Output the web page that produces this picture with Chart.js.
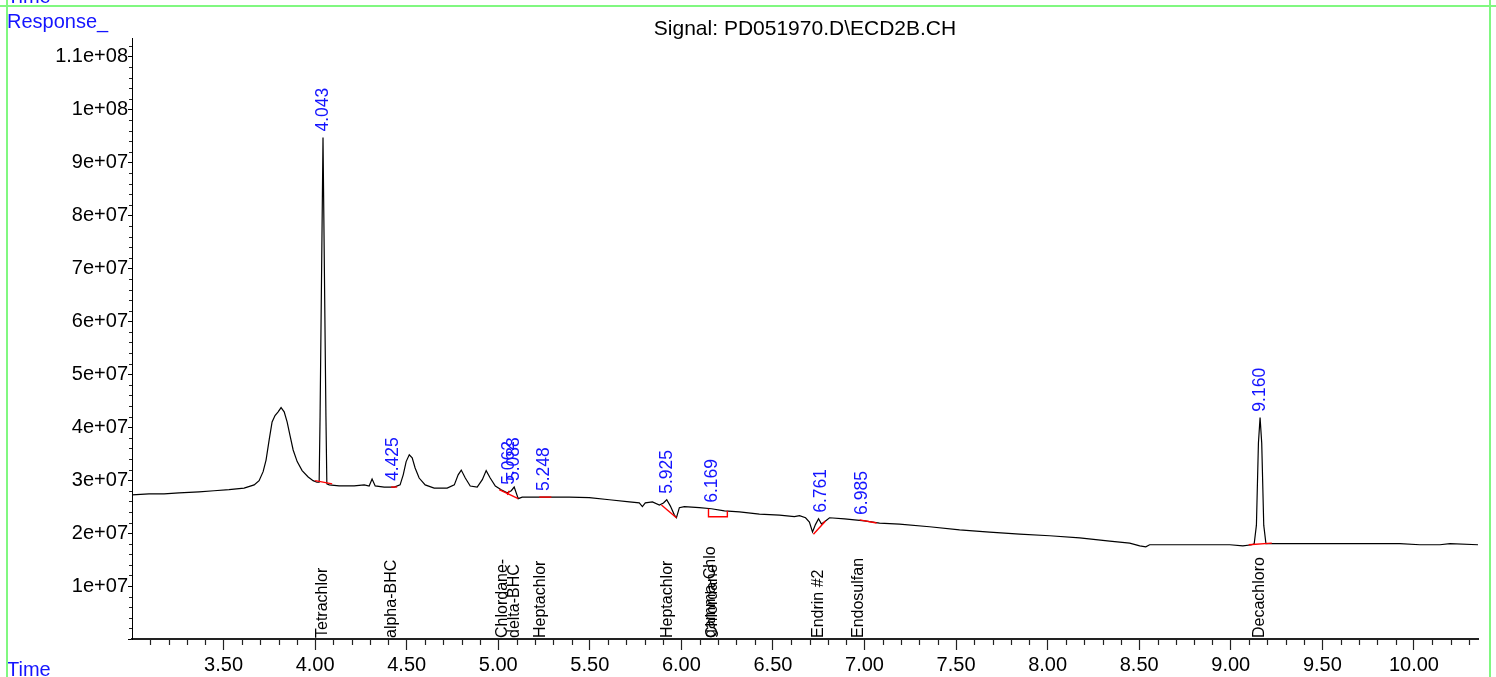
<!DOCTYPE html>
<html><head><meta charset="utf-8">
<script src="https://cdn.jsdelivr.net/npm/chart.js@4.4.1/dist/chart.umd.min.js"></script>
<style>html,body{margin:0;padding:0;background:#fff;overflow:hidden}#wrap{width:1496px;height:677px;position:relative}</style>
</head><body><div id="wrap"><canvas id="c"></canvas></div>
<script>
// ---- signal trace (retention time in min, response) ----
const times = [3.000,3.093,3.175,3.257,3.366,3.448,3.530,3.612,3.667,3.694,3.716,3.732,3.749,3.765,3.781,3.798,3.814,3.831,3.847,3.863,3.880,3.902,3.929,3.962,3.989,4.010,
4.022,4.027,4.043,4.059,4.064,4.077,4.131,4.213,4.268,4.295,4.311,4.328,4.377,4.432,4.464,4.481,4.497,4.514,4.530,4.546,4.568,4.601,4.650,4.721,4.760,4.781,4.798,4.820,4.847,4.885,4.913,4.934,4.956,4.984,
5.016,5.049,5.071,5.087,5.109,5.131,5.197,5.279,5.388,5.497,5.607,5.716,5.770,5.787,5.803,5.842,5.880,5.902,5.920,5.940,5.962,5.973,5.989,6.016,6.098,6.164,6.235,6.317,6.426,6.536,6.617,6.645,6.678,6.699,6.716,6.732,6.749,6.765,6.787,6.809,6.891,
7.000,7.082,7.191,7.355,7.519,7.683,7.847,8.011,8.175,8.339,8.448,8.503,8.536,8.557,8.667,8.831,8.995,9.066,9.115,9.128,9.140,9.151,9.160,9.169,9.180,9.192,9.268,9.486,9.705,9.923,10.033,10.142,10.197,10.350];
const responses = [2.72e7,2.74e7,2.74e7,2.76e7,2.78e7,2.80e7,2.82e7,2.85e7,2.91e7,2.99e7,3.16e7,3.38e7,3.76e7,4.10e7,4.22e7,4.29e7,4.37e7,4.29e7,4.10e7,3.84e7,3.57e7,3.35e7,3.18e7,3.06e7,2.99e7,2.96e7,
2.96e7,4.2e7,9.47e7,4.2e7,2.93e7,2.91e7,2.89e7,2.89e7,2.91e7,2.89e7,3.02e7,2.89e7,2.87e7,2.87e7,2.91e7,3.10e7,3.35e7,3.48e7,3.42e7,3.23e7,3.04e7,2.91e7,2.85e7,2.85e7,2.91e7,3.10e7,3.19e7,3.04e7,2.89e7,2.87e7,3.01e7,3.18e7,3.04e7,2.89e7,
2.82e7,2.76e7,2.80e7,2.87e7,2.65e7,2.68e7,2.68e7,2.68e7,2.68e7,2.67e7,2.63e7,2.59e7,2.57e7,2.50e7,2.57e7,2.59e7,2.53e7,2.57e7,2.63e7,2.51e7,2.34e7,2.29e7,2.48e7,2.50e7,2.48e7,2.46e7,2.42e7,2.40e7,2.36e7,2.34e7,2.31e7,2.33e7,2.29e7,2.21e7,2.02e7,2.16e7,2.27e7,2.17e7,2.23e7,2.29e7,2.27e7,
2.23e7,2.19e7,2.17e7,2.12e7,2.06e7,2.02e7,1.98e7,1.95e7,1.91e7,1.85e7,1.81e7,1.76e7,1.74e7,1.78e7,1.78e7,1.78e7,1.78e7,1.76e7,1.78e7,1.80e7,2.15e7,3.70e7,4.18e7,3.70e7,2.15e7,1.80e7,1.80e7,1.80e7,1.80e7,1.80e7,1.78e7,1.78e7,1.80e7,1.78e7];

// ---- integration baselines (red) ----
const baselineTimes = [[4.000,4.093],[4.415,4.448],[5.005,5.109],[5.050,5.060],[5.224,5.290],[5.891,5.973],[6.148,6.148,6.251,6.251],[6.721,6.787],[6.973,7.066],[9.098,9.224]];
const baselineValues = [[2.99e7,2.93e7],[2.87e7,2.87e7],[2.82e7,2.65e7],[2.72e7,2.80e7],[2.68e7,2.68e7],[2.53e7,2.29e7],[2.46e7,2.31e7,2.31e7,2.42e7],[1.98e7,2.23e7],[2.25e7,2.19e7],[1.78e7,1.81e7]];

// ---- peak retention-time annotations ----
const rtLabels  = ['4.043','4.425','5.062','5.088','5.248','5.925','6.169','6.761','6.985','9.160'];
const rtTimes   = [4.043,4.425,5.062,5.088,5.248,5.925,6.169,6.761,6.985,9.160];
const rtHeights = [9.47e7,2.87e7,2.80e7,2.87e7,2.68e7,2.63e7,2.46e7,2.27e7,2.23e7,4.18e7];

// ---- compound names ----
const compoundNames = ['Tetrachlor','alpha-BHC','Chlordane-','delta-BHC','Heptachlor','Heptachlor','gamma-Chlo','Chlordane','Endrin #2','Endosulfan','Decachloro'];
const compoundTimes = [4.043,4.420,5.022,5.088,5.230,5.925,6.162,6.172,6.750,6.970,9.160];

// ---- axes ----
const xMin = 3.0, xMax = 10.35, xMajor = 0.5, xMinor = 0.1;
const yMin = 0, yMax = 1.135e8, yMajor = 1e7, yMinor = 2e6;

const FONT = '"Liberation Sans", Arial, sans-serif';

const datasets = [{
  data: times.map((t,i)=>({x:t,y:responses[i]})),
  borderColor:'#000', borderWidth:1.2, pointRadius:0, tension:0, fill:false, order:1
}];
baselineTimes.forEach((ts,k)=>{
  datasets.push({data: ts.map((t,i)=>({x:t,y:baselineValues[k][i]})), borderColor:'#ff0000', borderWidth:1.4, pointRadius:0, tension:0, fill:false, order:0});
});

function fmtExp(v){
  let s = Number(v).toExponential();
  return s.replace(/e([+-])(\d)$/, 'e$10$2');
}

const decor = {
  id:'decor',
  afterDraw(chart){
    const ctx = chart.ctx, xs = chart.scales.x, ys = chart.scales.y, a = chart.chartArea;
    ctx.save();
    // minor ticks
    ctx.strokeStyle = '#222'; ctx.lineWidth = 1.2;
    ctx.beginPath();
    const nx0 = Math.ceil(xs.min/xMinor - 1e-6), nx1 = Math.floor(xs.max/xMinor + 1e-6);
    for(let k=nx0;k<=nx1;k++){
      const v = k*xMinor;
      if (Math.abs(v/xMajor - Math.round(v/xMajor)) < 1e-6) continue;
      const px = Math.round(xs.getPixelForValue(v))+0.5;
      ctx.moveTo(px, a.bottom); ctx.lineTo(px, a.bottom+6);
    }
    const ny1 = Math.floor(ys.max/yMinor);
    for(let k=1;k<=ny1;k++){
      const v = k*yMinor;
      if (k % Math.round(yMajor/yMinor) === 0) continue;
      const py = Math.round(ys.getPixelForValue(v))+0.5;
      ctx.moveTo(a.left-3, py); ctx.lineTo(a.left, py);
    }
    ctx.stroke();

    // compound names
    ctx.fillStyle = '#000';
    ctx.font = '16px ' + FONT;
    ctx.textAlign = 'left'; ctx.textBaseline = 'middle';
    compoundNames.forEach((n,i)=>{
      const px = xs.getPixelForValue(compoundTimes[i]);
      ctx.save(); ctx.translate(px, a.bottom-1); ctx.rotate(-Math.PI/2); ctx.fillText(n, 0, 0); ctx.restore();
    });
    // RT labels
    ctx.fillStyle = '#1414ff';
    ctx.font = '17.5px ' + FONT;
    rtLabels.forEach((n,i)=>{
      const px = xs.getPixelForValue(rtTimes[i]);
      const py = ys.getPixelForValue(rtHeights[i]) - 6;
      ctx.save(); ctx.translate(px, py); ctx.rotate(-Math.PI/2); ctx.fillText(n, 0, 0); ctx.restore();
    });

    // header texts
    ctx.textBaseline = 'alphabetic'; ctx.textAlign = 'left';
    ctx.font = '20px ' + FONT;
    ctx.fillStyle = '#1414ff';
    ctx.fillText('Time', 7, 3);
    ctx.fillText('Response_', 7, 28);
    ctx.fillText('Time', 7, 676);
    ctx.fillStyle = '#000';
    ctx.textAlign = 'center';
    ctx.font = '21px ' + FONT;
    ctx.fillText('Signal: PD051970.D\\ECD2B.CH', 805, 35);

    // green frame
    ctx.strokeStyle = '#80f880'; ctx.lineWidth = 2;
    ctx.beginPath();
    ctx.moveTo(0, 6); ctx.lineTo(1496, 6);
    ctx.moveTo(7, 0); ctx.lineTo(7, 677);
    ctx.moveTo(1490, 0); ctx.lineTo(1490, 677);
    ctx.stroke();
    ctx.restore();
  }
};

new Chart(document.getElementById('c'), {
  type:'line',
  data:{datasets},
  options:{
    responsive:true, maintainAspectRatio:false, animation:false,
    layout:{padding:{left:0, top:38, right:18, bottom:0}},
    plugins:{legend:{display:false}, tooltip:{enabled:false}, title:{display:false}},
    scales:{
      x:{type:'linear', position:'bottom', min:xMin, max:xMax,
        border:{display:true, color:'#222', width:2},
        grid:{display:true, drawOnChartArea:false, drawTicks:true, tickLength:11, tickColor:(c)=> (c.tick && c.tick.value < 3.25) ? 'rgba(0,0,0,0)' : '#222', tickWidth:1.2},
        ticks:{stepSize:xMajor, includeBounds:false, autoSkip:false, maxTicksLimit:100, maxRotation:0, minRotation:0, padding:3, color:'#000', font:{family:FONT, size:20},
          callback:(v)=> v < 3.25 ? '' : Number(v).toFixed(2)},
        afterFit:(s)=>{ s.height = 38; }
      },
      y:{type:'linear', position:'left', min:yMin, max:yMax,
        afterBuildTicks:(s)=>{
          const t = [];
          for (let k = 0; k * yMajor <= s.max; k++) t.push({value: k * yMajor});
          s.ticks = t;
        },
        border:{display:true, color:'#000', width:1},
        grid:{display:true, drawOnChartArea:false, drawTicks:true, tickLength:4, tickColor:'#000'},
        ticks:{autoSkip:false, padding:0, color:'#000', font:{family:FONT, size:20},
          callback:(v)=> v === 0 ? '' : fmtExp(v)},
        afterFit:(s)=>{ s.width = 132; }
      }
    }
  },
  plugins:[decor]
});
</script>
</body></html>
